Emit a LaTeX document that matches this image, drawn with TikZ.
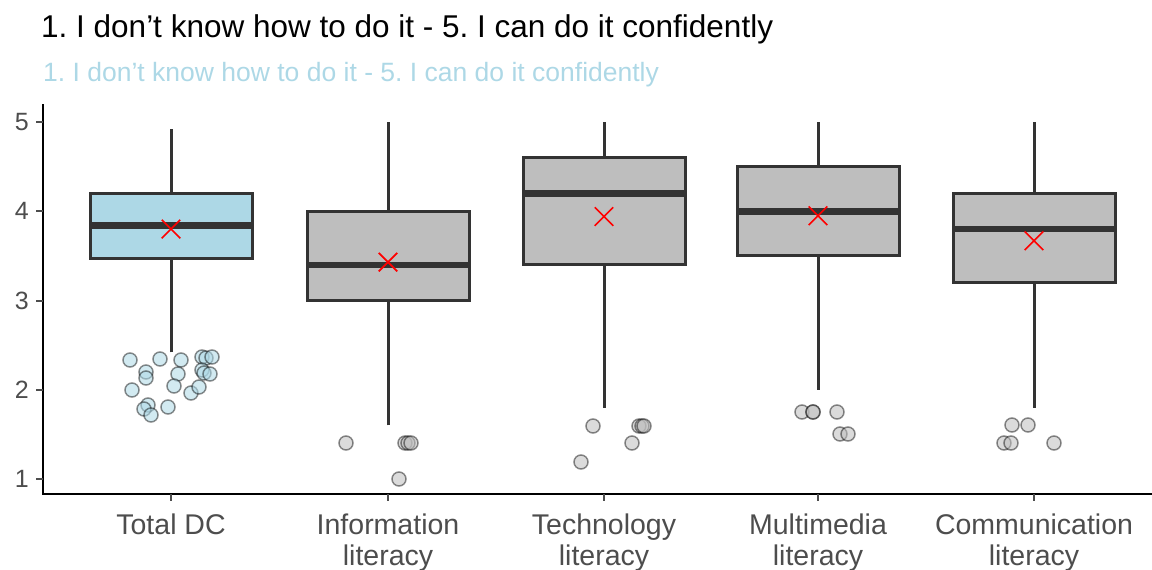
\documentclass[tikz,border=0pt]{standalone}
\usepackage{fontspec}
\setmainfont{Liberation Sans}
\usepackage{xcolor}
\definecolor{boxblue}{HTML}{ADD8E6}
\definecolor{boxgray}{HTML}{BEBEBE}
\definecolor{edgegray}{HTML}{333333}
\definecolor{labelgray}{HTML}{4D4D4D}
\usetikzlibrary{positioning, shapes.misc}
\frenchspacing

\begin{document}
\begin{tikzpicture}[x=1pt, y=1pt,
      heading/.style={anchor=base west, inner sep=0pt,
                      font=\fontsize{31.5}{36}\selectfont},
      subheading/.style={anchor=base west, inner sep=0pt, text=boxblue,
                         font=\fontsize{26.5}{30}\selectfont},
      ticklab/.style={anchor=east, inner sep=0pt, text=labelgray,
                      font=\fontsize{25}{28}\selectfont},
      catlab/.style={anchor=north, inner sep=0pt, align=center, text=labelgray,
                     font=\fontsize{28.5}{31}\selectfont},
      axisline/.style={line width=2.2pt, black},
      tickline/.style={line width=1.8pt, labelgray},
      whisk/.style={line width=3pt, edgegray},
      boxbody/.style={line width=3pt, draw=edgegray},
      medline/.style={line width=6.5pt, edgegray},
      meanmark/.style={cross out, draw=red, line width=1.6pt,
                       minimum size=17pt, inner sep=0pt},
      outblue/.style={circle, minimum size=14pt, inner sep=0pt, line width=1.5pt,
                      fill=boxblue, fill opacity=0.55, draw=black, draw opacity=0.45},
      outgray/.style={outblue, fill=boxgray}
      ]
    \useasboundingbox (0,0) rectangle (1152,-570);

    % titles
    \node[heading] (title) at (41,-37) {1. I don’t know how to do it - 5. I can do it confidently};
    \node[subheading] (subtitle) at (43,-81) {1. I don’t know how to do it - 5. I can do it confidently};

    % axes
    \draw[axisline] (43,-104) -- (43,-494) -- (1152,-494);
    \foreach \v/\py in {1/479, 2/390, 3/301, 4/211, 5/122} {
      \draw[tickline] (36,-\py) -- (43,-\py);
      \node[ticklab] (ytick\v) at (29,-\py) {\v};
    }

    % boxes (data units on y)
    \begin{scope}[shift={(0pt,-568.25pt)}, y=89.25pt]
      \foreach \cx/\lo/\qa/\md/\qb/\hi/\mn/\col in {
          171/2.42/3.47/3.84/4.2/4.92/3.80/boxblue,
          388/1.6/3.0/3.4/4.0/5.0/3.43/boxgray,
          604/1.8/3.4/4.2/4.6/5.0/3.94/boxgray,
          818/2.0/3.5/4.0/4.5/5.0/3.95/boxgray,
          1034/1.8/3.2/3.8/4.2/5.0/3.67/boxgray} {
        \draw[whisk] (\cx,\lo) -- (\cx,\qa);
        \draw[whisk] (\cx,\qb) -- (\cx,\hi);
        \draw[boxbody, fill=\col] (\cx-81,\qa) rectangle (\cx+81,\qb);
        \draw[medline] (\cx-80,\md) -- (\cx+80,\md);
        \node[meanmark] (mean\cx) at (\cx,\mn) {};
      }
    \end{scope}

    % outliers
    \foreach \px/\py [count=\i] in {130/360, 160/359, 181/360, 202/357, 206/358, 212/357,
        146/372, 146/378, 178/374, 202/370, 204/373, 210/374, 132/390, 174/386,
        191/393, 199/387, 148/405, 144/409, 151/415, 168/407}
      \node[outblue] (otdc\i) at (\px,-\py) {};
    \foreach \px/\py [count=\i] in {346/443, 405/443, 408/443, 411/443, 399/479,
        593/426, 581/462, 632/443, 639/426, 642/426, 644/426,
        802/412, 813/412, 813/412, 837/412, 840/434, 848/434,
        1012/425, 1028/425, 1004/443, 1011/443, 1054/443}
      \node[outgray] (oth\i) at (\px,-\py) {};

    % category labels
    \foreach \cx/\txt [count=\i] in {171/Total DC, 388/Information\\literacy,
        604/Technology\\literacy, 818/Multimedia\\literacy, 1034/Communication\\literacy} {
      \draw[tickline] (\cx,-494) -- (\cx,-501);
      \node[catlab] (cat\i) at (\cx,-514) {\txt};
    }
  \end{tikzpicture}
\end{document}
